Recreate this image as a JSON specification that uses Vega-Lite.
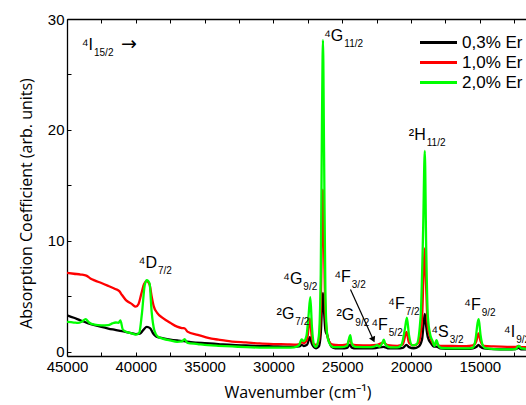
{
  "$schema": "https://vega.github.io/schema/vega-lite/v6.json",
  "width": 461,
  "height": 337,
  "autosize": "none",
  "padding": {"left": 67, "top": 19, "right": 0, "bottom": 49},
  "background": "white",
  "config": {
    "view": {"stroke": null},
    "font": "Liberation Sans",
    "axis": {
      "grid": false,
      "domainColor": "black",
      "domainWidth": 1.3,
      "tickColor": "black",
      "labelColor": "black",
      "titleColor": "black",
      "labelFont": "Liberation Sans",
      "labelFontSize": 15,
      "labelFlush": false,
      "titleFont": "Open Sans",
      "titleFontSize": 16,
      "titleFontWeight": "normal"
    },
    "legend": {
      "labelFont": "Liberation Sans",
      "labelFontSize": 17,
      "labelColor": "black"
    }
  },
  "datasets": {
    "spectra": [
      {"wn":45000,"a":3.28,"s":"0,3% Er"},{"wn":44500,"a":3.05,"s":"0,3% Er"},{"wn":44000,"a":2.8,"s":"0,3% Er"},{"wn":43500,"a":2.57,"s":"0,3% Er"},{"wn":43000,"a":2.38,"s":"0,3% Er"},{"wn":42500,"a":2.22,"s":"0,3% Er"},{"wn":42000,"a":2.08,"s":"0,3% Er"},{"wn":41500,"a":1.96,"s":"0,3% Er"},{"wn":41000,"a":1.84,"s":"0,3% Er"},{"wn":40500,"a":1.7,"s":"0,3% Er"},{"wn":40000,"a":1.58,"s":"0,3% Er"},{"wn":39700,"a":1.62,"s":"0,3% Er"},{"wn":39450,"a":1.95,"s":"0,3% Er"},{"wn":39200,"a":2.22,"s":"0,3% Er"},{"wn":38950,"a":2.1,"s":"0,3% Er"},{"wn":38750,"a":1.65,"s":"0,3% Er"},{"wn":38500,"a":1.35,"s":"0,3% Er"},{"wn":38000,"a":1.2,"s":"0,3% Er"},{"wn":37500,"a":1.08,"s":"0,3% Er"},{"wn":37000,"a":1.0,"s":"0,3% Er"},{"wn":36500,"a":0.94,"s":"0,3% Er"},{"wn":36000,"a":0.86,"s":"0,3% Er"},{"wn":35000,"a":0.76,"s":"0,3% Er"},{"wn":34000,"a":0.68,"s":"0,3% Er"},{"wn":33000,"a":0.6,"s":"0,3% Er"},{"wn":32000,"a":0.55,"s":"0,3% Er"},{"wn":31000,"a":0.5,"s":"0,3% Er"},{"wn":30000,"a":0.47,"s":"0,3% Er"},{"wn":29000,"a":0.44,"s":"0,3% Er"},{"wn":28500,"a":0.44,"s":"0,3% Er"},{"wn":28100,"a":0.48,"s":"0,3% Er"},{"wn":27950,"a":0.6,"s":"0,3% Er"},{"wn":27800,"a":0.5,"s":"0,3% Er"},{"wn":27550,"a":0.62,"s":"0,3% Er"},{"wn":27350,"a":1.3,"s":"0,3% Er"},{"wn":27220,"a":0.75,"s":"0,3% Er"},{"wn":27050,"a":0.4,"s":"0,3% Er"},{"wn":26900,"a":0.3,"s":"0,3% Er"},{"wn":26700,"a":0.45,"s":"0,3% Er"},{"wn":26560,"a":1.6,"s":"0,3% Er"},{"wn":26470,"a":4.0,"s":"0,3% Er"},{"wn":26400,"a":5.3,"s":"0,3% Er"},{"wn":26320,"a":3.6,"s":"0,3% Er"},{"wn":26220,"a":1.9,"s":"0,3% Er"},{"wn":26100,"a":1.5,"s":"0,3% Er"},{"wn":25950,"a":0.9,"s":"0,3% Er"},{"wn":25750,"a":0.4,"s":"0,3% Er"},{"wn":25500,"a":0.3,"s":"0,3% Er"},{"wn":25000,"a":0.28,"s":"0,3% Er"},{"wn":24650,"a":0.33,"s":"0,3% Er"},{"wn":24450,"a":0.62,"s":"0,3% Er"},{"wn":24300,"a":0.35,"s":"0,3% Er"},{"wn":24000,"a":0.28,"s":"0,3% Er"},{"wn":23000,"a":0.28,"s":"0,3% Er"},{"wn":22500,"a":0.33,"s":"0,3% Er"},{"wn":22000,"a":0.42,"s":"0,3% Er"},{"wn":21700,"a":0.3,"s":"0,3% Er"},{"wn":21000,"a":0.28,"s":"0,3% Er"},{"wn":20600,"a":0.33,"s":"0,3% Er"},{"wn":20330,"a":0.6,"s":"0,3% Er"},{"wn":20150,"a":0.4,"s":"0,3% Er"},{"wn":19800,"a":0.3,"s":"0,3% Er"},{"wn":19450,"a":0.45,"s":"0,3% Er"},{"wn":19200,"a":1.1,"s":"0,3% Er"},{"wn":19080,"a":2.6,"s":"0,3% Er"},{"wn":19000,"a":3.4,"s":"0,3% Er"},{"wn":18920,"a":2.5,"s":"0,3% Er"},{"wn":18780,"a":1.3,"s":"0,3% Er"},{"wn":18550,"a":0.75,"s":"0,3% Er"},{"wn":18350,"a":0.45,"s":"0,3% Er"},{"wn":18150,"a":0.45,"s":"0,3% Er"},{"wn":17900,"a":0.3,"s":"0,3% Er"},{"wn":17000,"a":0.25,"s":"0,3% Er"},{"wn":16000,"a":0.25,"s":"0,3% Er"},{"wn":15500,"a":0.3,"s":"0,3% Er"},{"wn":15250,"a":0.42,"s":"0,3% Er"},{"wn":15100,"a":0.6,"s":"0,3% Er"},{"wn":14950,"a":0.42,"s":"0,3% Er"},{"wn":14700,"a":0.28,"s":"0,3% Er"},{"wn":14000,"a":0.22,"s":"0,3% Er"},{"wn":13000,"a":0.2,"s":"0,3% Er"},{"wn":12400,"a":0.22,"s":"0,3% Er"},{"wn":12200,"a":0.33,"s":"0,3% Er"},{"wn":12000,"a":0.2,"s":"0,3% Er"},{"wn":11000,"a":0.18,"s":"0,3% Er"},

      {"wn":45000,"a":7.1,"s":"1,0% Er"},{"wn":44500,"a":7.02,"s":"1,0% Er"},{"wn":44000,"a":6.95,"s":"1,0% Er"},{"wn":43600,"a":6.85,"s":"1,0% Er"},{"wn":43300,"a":6.6,"s":"1,0% Er"},{"wn":43000,"a":6.42,"s":"1,0% Er"},{"wn":42500,"a":6.18,"s":"1,0% Er"},{"wn":42000,"a":5.92,"s":"1,0% Er"},{"wn":41500,"a":5.65,"s":"1,0% Er"},{"wn":41200,"a":5.45,"s":"1,0% Er"},{"wn":41000,"a":5.1,"s":"1,0% Er"},{"wn":40700,"a":4.62,"s":"1,0% Er"},{"wn":40300,"a":4.3,"s":"1,0% Er"},{"wn":40000,"a":4.05,"s":"1,0% Er"},{"wn":39800,"a":4.3,"s":"1,0% Er"},{"wn":39600,"a":5.2,"s":"1,0% Er"},{"wn":39400,"a":6.1,"s":"1,0% Er"},{"wn":39200,"a":6.35,"s":"1,0% Er"},{"wn":39000,"a":6.05,"s":"1,0% Er"},{"wn":38850,"a":5.0,"s":"1,0% Er"},{"wn":38700,"a":4.1,"s":"1,0% Er"},{"wn":38450,"a":3.5,"s":"1,0% Er"},{"wn":38000,"a":3.0,"s":"1,0% Er"},{"wn":37500,"a":2.6,"s":"1,0% Er"},{"wn":37000,"a":2.25,"s":"1,0% Er"},{"wn":36650,"a":2.12,"s":"1,0% Er"},{"wn":36450,"a":2.1,"s":"1,0% Er"},{"wn":36250,"a":1.8,"s":"1,0% Er"},{"wn":35500,"a":1.5,"s":"1,0% Er"},{"wn":35000,"a":1.32,"s":"1,0% Er"},{"wn":34500,"a":1.16,"s":"1,0% Er"},{"wn":34000,"a":1.08,"s":"1,0% Er"},{"wn":33500,"a":0.98,"s":"1,0% Er"},{"wn":33000,"a":0.9,"s":"1,0% Er"},{"wn":32000,"a":0.82,"s":"1,0% Er"},{"wn":31000,"a":0.73,"s":"1,0% Er"},{"wn":30000,"a":0.68,"s":"1,0% Er"},{"wn":29000,"a":0.65,"s":"1,0% Er"},{"wn":28500,"a":0.63,"s":"1,0% Er"},{"wn":28100,"a":0.68,"s":"1,0% Er"},{"wn":27950,"a":0.85,"s":"1,0% Er"},{"wn":27800,"a":0.75,"s":"1,0% Er"},{"wn":27550,"a":1.1,"s":"1,0% Er"},{"wn":27350,"a":3.0,"s":"1,0% Er"},{"wn":27220,"a":1.4,"s":"1,0% Er"},{"wn":27050,"a":0.65,"s":"1,0% Er"},{"wn":26900,"a":0.6,"s":"1,0% Er"},{"wn":26700,"a":1.0,"s":"1,0% Er"},{"wn":26560,"a":4.0,"s":"1,0% Er"},{"wn":26470,"a":11,"s":"1,0% Er"},{"wn":26400,"a":14.6,"s":"1,0% Er"},{"wn":26320,"a":9.5,"s":"1,0% Er"},{"wn":26220,"a":3.5,"s":"1,0% Er"},{"wn":26100,"a":1.6,"s":"1,0% Er"},{"wn":25950,"a":0.9,"s":"1,0% Er"},{"wn":25750,"a":0.65,"s":"1,0% Er"},{"wn":25500,"a":0.6,"s":"1,0% Er"},{"wn":25000,"a":0.58,"s":"1,0% Er"},{"wn":24650,"a":0.65,"s":"1,0% Er"},{"wn":24450,"a":1.1,"s":"1,0% Er"},{"wn":24300,"a":0.65,"s":"1,0% Er"},{"wn":24000,"a":0.58,"s":"1,0% Er"},{"wn":23000,"a":0.56,"s":"1,0% Er"},{"wn":22500,"a":0.6,"s":"1,0% Er"},{"wn":22000,"a":0.8,"s":"1,0% Er"},{"wn":21700,"a":0.58,"s":"1,0% Er"},{"wn":21000,"a":0.52,"s":"1,0% Er"},{"wn":20600,"a":0.65,"s":"1,0% Er"},{"wn":20330,"a":1.77,"s":"1,0% Er"},{"wn":20150,"a":0.8,"s":"1,0% Er"},{"wn":19800,"a":0.55,"s":"1,0% Er"},{"wn":19450,"a":0.8,"s":"1,0% Er"},{"wn":19200,"a":3.0,"s":"1,0% Er"},{"wn":19080,"a":7.5,"s":"1,0% Er"},{"wn":19000,"a":9.3,"s":"1,0% Er"},{"wn":18920,"a":6.5,"s":"1,0% Er"},{"wn":18780,"a":2.2,"s":"1,0% Er"},{"wn":18550,"a":1.1,"s":"1,0% Er"},{"wn":18350,"a":0.65,"s":"1,0% Er"},{"wn":18150,"a":0.75,"s":"1,0% Er"},{"wn":17900,"a":0.5,"s":"1,0% Er"},{"wn":17000,"a":0.5,"s":"1,0% Er"},{"wn":16000,"a":0.48,"s":"1,0% Er"},{"wn":15500,"a":0.55,"s":"1,0% Er"},{"wn":15250,"a":0.95,"s":"1,0% Er"},{"wn":15100,"a":1.63,"s":"1,0% Er"},{"wn":14950,"a":0.95,"s":"1,0% Er"},{"wn":14700,"a":0.52,"s":"1,0% Er"},{"wn":14000,"a":0.46,"s":"1,0% Er"},{"wn":13000,"a":0.42,"s":"1,0% Er"},{"wn":12400,"a":0.42,"s":"1,0% Er"},{"wn":12200,"a":0.5,"s":"1,0% Er"},{"wn":12000,"a":0.4,"s":"1,0% Er"},{"wn":11000,"a":0.38,"s":"1,0% Er"},

      {"wn":45000,"a":2.67,"s":"2,0% Er"},{"wn":44500,"a":2.62,"s":"2,0% Er"},{"wn":44200,"a":2.58,"s":"2,0% Er"},{"wn":43900,"a":2.72,"s":"2,0% Er"},{"wn":43650,"a":2.92,"s":"2,0% Er"},{"wn":43400,"a":2.62,"s":"2,0% Er"},{"wn":43000,"a":2.42,"s":"2,0% Er"},{"wn":42500,"a":2.36,"s":"2,0% Er"},{"wn":42000,"a":2.38,"s":"2,0% Er"},{"wn":41700,"a":2.55,"s":"2,0% Er"},{"wn":41450,"a":2.62,"s":"2,0% Er"},{"wn":41250,"a":2.6,"s":"2,0% Er"},{"wn":41120,"a":2.82,"s":"2,0% Er"},{"wn":40950,"a":2.0,"s":"2,0% Er"},{"wn":40700,"a":1.78,"s":"2,0% Er"},{"wn":40300,"a":1.64,"s":"2,0% Er"},{"wn":40000,"a":1.53,"s":"2,0% Er"},{"wn":39750,"a":1.7,"s":"2,0% Er"},{"wn":39550,"a":3.5,"s":"2,0% Er"},{"wn":39350,"a":6.0,"s":"2,0% Er"},{"wn":39200,"a":6.44,"s":"2,0% Er"},{"wn":39000,"a":6.15,"s":"2,0% Er"},{"wn":38850,"a":3.6,"s":"2,0% Er"},{"wn":38650,"a":1.9,"s":"2,0% Er"},{"wn":38400,"a":1.35,"s":"2,0% Er"},{"wn":38000,"a":1.15,"s":"2,0% Er"},{"wn":37500,"a":1.0,"s":"2,0% Er"},{"wn":37000,"a":0.88,"s":"2,0% Er"},{"wn":36650,"a":0.92,"s":"2,0% Er"},{"wn":36450,"a":1.12,"s":"2,0% Er"},{"wn":36250,"a":0.78,"s":"2,0% Er"},{"wn":35500,"a":0.68,"s":"2,0% Er"},{"wn":35000,"a":0.6,"s":"2,0% Er"},{"wn":34500,"a":0.55,"s":"2,0% Er"},{"wn":34000,"a":0.52,"s":"2,0% Er"},{"wn":33000,"a":0.46,"s":"2,0% Er"},{"wn":32000,"a":0.4,"s":"2,0% Er"},{"wn":31000,"a":0.36,"s":"2,0% Er"},{"wn":30000,"a":0.35,"s":"2,0% Er"},{"wn":29000,"a":0.35,"s":"2,0% Er"},{"wn":28500,"a":0.38,"s":"2,0% Er"},{"wn":28150,"a":0.55,"s":"2,0% Er"},{"wn":27950,"a":1.1,"s":"2,0% Er"},{"wn":27800,"a":0.95,"s":"2,0% Er"},{"wn":27600,"a":1.4,"s":"2,0% Er"},{"wn":27450,"a":3.2,"s":"2,0% Er"},{"wn":27320,"a":4.9,"s":"2,0% Er"},{"wn":27200,"a":2.2,"s":"2,0% Er"},{"wn":27050,"a":0.6,"s":"2,0% Er"},{"wn":26900,"a":0.42,"s":"2,0% Er"},{"wn":26700,"a":1.4,"s":"2,0% Er"},{"wn":26560,"a":7,"s":"2,0% Er"},{"wn":26470,"a":21,"s":"2,0% Er"},{"wn":26400,"a":28.1,"s":"2,0% Er"},{"wn":26320,"a":18,"s":"2,0% Er"},{"wn":26220,"a":5,"s":"2,0% Er"},{"wn":26100,"a":1.6,"s":"2,0% Er"},{"wn":25950,"a":0.8,"s":"2,0% Er"},{"wn":25750,"a":0.45,"s":"2,0% Er"},{"wn":25500,"a":0.4,"s":"2,0% Er"},{"wn":25000,"a":0.4,"s":"2,0% Er"},{"wn":24650,"a":0.52,"s":"2,0% Er"},{"wn":24500,"a":1.2,"s":"2,0% Er"},{"wn":24420,"a":1.47,"s":"2,0% Er"},{"wn":24300,"a":0.7,"s":"2,0% Er"},{"wn":24050,"a":0.42,"s":"2,0% Er"},{"wn":23000,"a":0.4,"s":"2,0% Er"},{"wn":22700,"a":0.45,"s":"2,0% Er"},{"wn":22450,"a":0.58,"s":"2,0% Er"},{"wn":22300,"a":0.45,"s":"2,0% Er"},{"wn":22100,"a":0.72,"s":"2,0% Er"},{"wn":21980,"a":1.08,"s":"2,0% Er"},{"wn":21850,"a":0.6,"s":"2,0% Er"},{"wn":21500,"a":0.38,"s":"2,0% Er"},{"wn":21000,"a":0.38,"s":"2,0% Er"},{"wn":20700,"a":0.6,"s":"2,0% Er"},{"wn":20450,"a":2.0,"s":"2,0% Er"},{"wn":20300,"a":3.07,"s":"2,0% Er"},{"wn":20150,"a":1.5,"s":"2,0% Er"},{"wn":19900,"a":0.55,"s":"2,0% Er"},{"wn":19600,"a":0.65,"s":"2,0% Er"},{"wn":19300,"a":3.2,"s":"2,0% Er"},{"wn":19120,"a":11,"s":"2,0% Er"},{"wn":19000,"a":18.1,"s":"2,0% Er"},{"wn":18900,"a":9.5,"s":"2,0% Er"},{"wn":18780,"a":3.2,"s":"2,0% Er"},{"wn":18600,"a":1.5,"s":"2,0% Er"},{"wn":18450,"a":1.0,"s":"2,0% Er"},{"wn":18300,"a":0.5,"s":"2,0% Er"},{"wn":18150,"a":1.02,"s":"2,0% Er"},{"wn":18000,"a":0.5,"s":"2,0% Er"},{"wn":17800,"a":0.32,"s":"2,0% Er"},{"wn":17000,"a":0.28,"s":"2,0% Er"},{"wn":16000,"a":0.28,"s":"2,0% Er"},{"wn":15500,"a":0.36,"s":"2,0% Er"},{"wn":15300,"a":1.2,"s":"2,0% Er"},{"wn":15160,"a":2.6,"s":"2,0% Er"},{"wn":15080,"a":2.92,"s":"2,0% Er"},{"wn":14950,"a":1.5,"s":"2,0% Er"},{"wn":14800,"a":0.6,"s":"2,0% Er"},{"wn":14600,"a":0.3,"s":"2,0% Er"},{"wn":14000,"a":0.22,"s":"2,0% Er"},{"wn":13000,"a":0.2,"s":"2,0% Er"},{"wn":12400,"a":0.22,"s":"2,0% Er"},{"wn":12250,"a":0.45,"s":"2,0% Er"},{"wn":12150,"a":0.5,"s":"2,0% Er"},{"wn":12000,"a":0.3,"s":"2,0% Er"},{"wn":11000,"a":0.2,"s":"2,0% Er"}
    ],
    "labels": [
      {"wn":43112,"a":27.2,"m":"⁴I","sub":"15/2"},
      {"wn":24921,"a":28.06,"m":"⁴G","sub":"11/2"},
      {"wn":18930,"a":19.08,"m":"²H","sub":"11/2"},
      {"wn":38464,"a":7.5,"m":"⁴D","sub":"7/2"},
      {"wn":27898,"a":6.08,"m":"⁴G","sub":"9/2"},
      {"wn":28479,"a":2.98,"m":"²G","sub":"7/2"},
      {"wn":24376,"a":6.29,"m":"⁴F","sub":"3/2"},
      {"wn":24121,"a":2.89,"m":"²G","sub":"9/2"},
      {"wn":21689,"a":1.92,"m":"⁴F","sub":"5/2"},
      {"wn":20455,"a":3.88,"m":"⁴F","sub":"7/2"},
      {"wn":17259,"a":1.32,"m":"⁴S","sub":"3/2"},
      {"wn":14935,"a":3.73,"m":"⁴F","sub":"9/2"},
      {"wn":12430,"a":1.32,"m":"⁴I","sub":"9/2"}
    ],
    "transitionArrow": [
      {"wn":39917,"a":27.2,"m":"→"}
    ],
    "arrow": [
      {"wn":24400,"a":5.6,"wn2":22742,"a2":1.07}
    ],
    "arrowhead": [
      {"wn":22742,"a":1.07}
    ]
  },
  "layer": [
    {
      "data": {"name": "spectra"},
      "mark": {"type": "line", "strokeWidth": 2.3, "clip": true, "interpolate": "monotone"},
      "encoding": {
        "x": {
          "field": "wn", "type": "quantitative",
          "scale": {"domain": [11500, 45000], "reverse": true, "nice": false, "zero": false},
          "axis": {
            "orient": "bottom",
            "values": [45000,42500,40000,37500,35000,32500,30000,27500,25000,22500,20000,17500,15000,12500],
            "format": "d",
            "labelExpr": "datum.value % 5000 == 0 ? datum.label : ''",
            "tickSize": -4,
            "labelPadding": 7,
            "title": "Wavenumber (cm⁻¹)",
            "titlePadding": 10
          }
        },
        "y": {
          "field": "a", "type": "quantitative",
          "scale": {"domain": [-0.4, 30], "nice": false, "zero": false},
          "axis": {
            "values": [0,5,10,15,20,25,30],
            "labelExpr": "datum.value % 10 == 0 ? datum.label : ''",
            "tickSize": -4,
            "labelPadding": 7,
            "title": "Absorption Coefficient (arb. units)",
            "titlePadding": 13,
            "titleY": 184
          }
        },
        "color": {
          "field": "s", "type": "nominal",
          "scale": {"domain": ["0,3% Er","1,0% Er","2,0% Er"], "range": ["#000000","#ff0000","#00ff00"]},
          "legend": {
            "title": null,
            "orient": "none",
            "legendX": 360,
            "legendY": 12,
            "padding": 0,
            "symbolType": "M-1.85,0H1.85",
            "symbolSize": 400,
            "symbolStrokeWidth": 3,
            "labelOffset": 12,
            "rowPadding": 0
          }
        }
      }
    },
    {
      "data": {"name": "labels"},
      "mark": {"type": "text", "align": "right", "baseline": "alphabetic", "fontSize": 16, "font": "Liberation Sans", "color": "black"},
      "encoding": {
        "x": {"field": "wn", "type": "quantitative", "axis": {"orient": "top", "values": [45000,42500,40000,37500,35000,32500,30000,27500,25000,22500,20000,17500,15000,12500], "labels": false, "title": null, "tickSize": -4, "domainColor": "black"}},
        "y": {"field": "a", "type": "quantitative"},
        "text": {"field": "m"}
      }
    },
    {
      "data": {"name": "labels"},
      "mark": {"type": "text", "align": "left", "baseline": "alphabetic", "fontSize": 10, "dx": 1, "dy": 6, "font": "Liberation Sans", "color": "black"},
      "encoding": {
        "x": {"field": "wn", "type": "quantitative", "axis": null},
        "y": {"field": "a", "type": "quantitative"},
        "text": {"field": "sub"}
      }
    },
    {
      "data": {"name": "transitionArrow"},
      "mark": {"type": "text", "align": "right", "baseline": "alphabetic", "fontSize": 19, "font": "DejaVu Sans", "color": "black"},
      "encoding": {
        "x": {"field": "wn", "type": "quantitative", "axis": null},
        "y": {"field": "a", "type": "quantitative"},
        "text": {"field": "m"}
      }
    },
    {
      "data": {"name": "arrow"},
      "mark": {"type": "rule", "color": "black", "strokeWidth": 1.2},
      "encoding": {
        "x": {"field": "wn", "type": "quantitative", "axis": null},
        "y": {"field": "a", "type": "quantitative"},
        "x2": {"field": "wn2"},
        "y2": {"field": "a2"}
      }
    },
    {
      "data": {"name": "arrowhead"},
      "mark": {"type": "point", "shape": "triangle-down", "filled": true, "color": "black", "opacity": 1, "size": 45, "angle": 335},
      "encoding": {
        "x": {"field": "wn", "type": "quantitative", "axis": null},
        "y": {"field": "a", "type": "quantitative"}
      }
    }
  ]
}
